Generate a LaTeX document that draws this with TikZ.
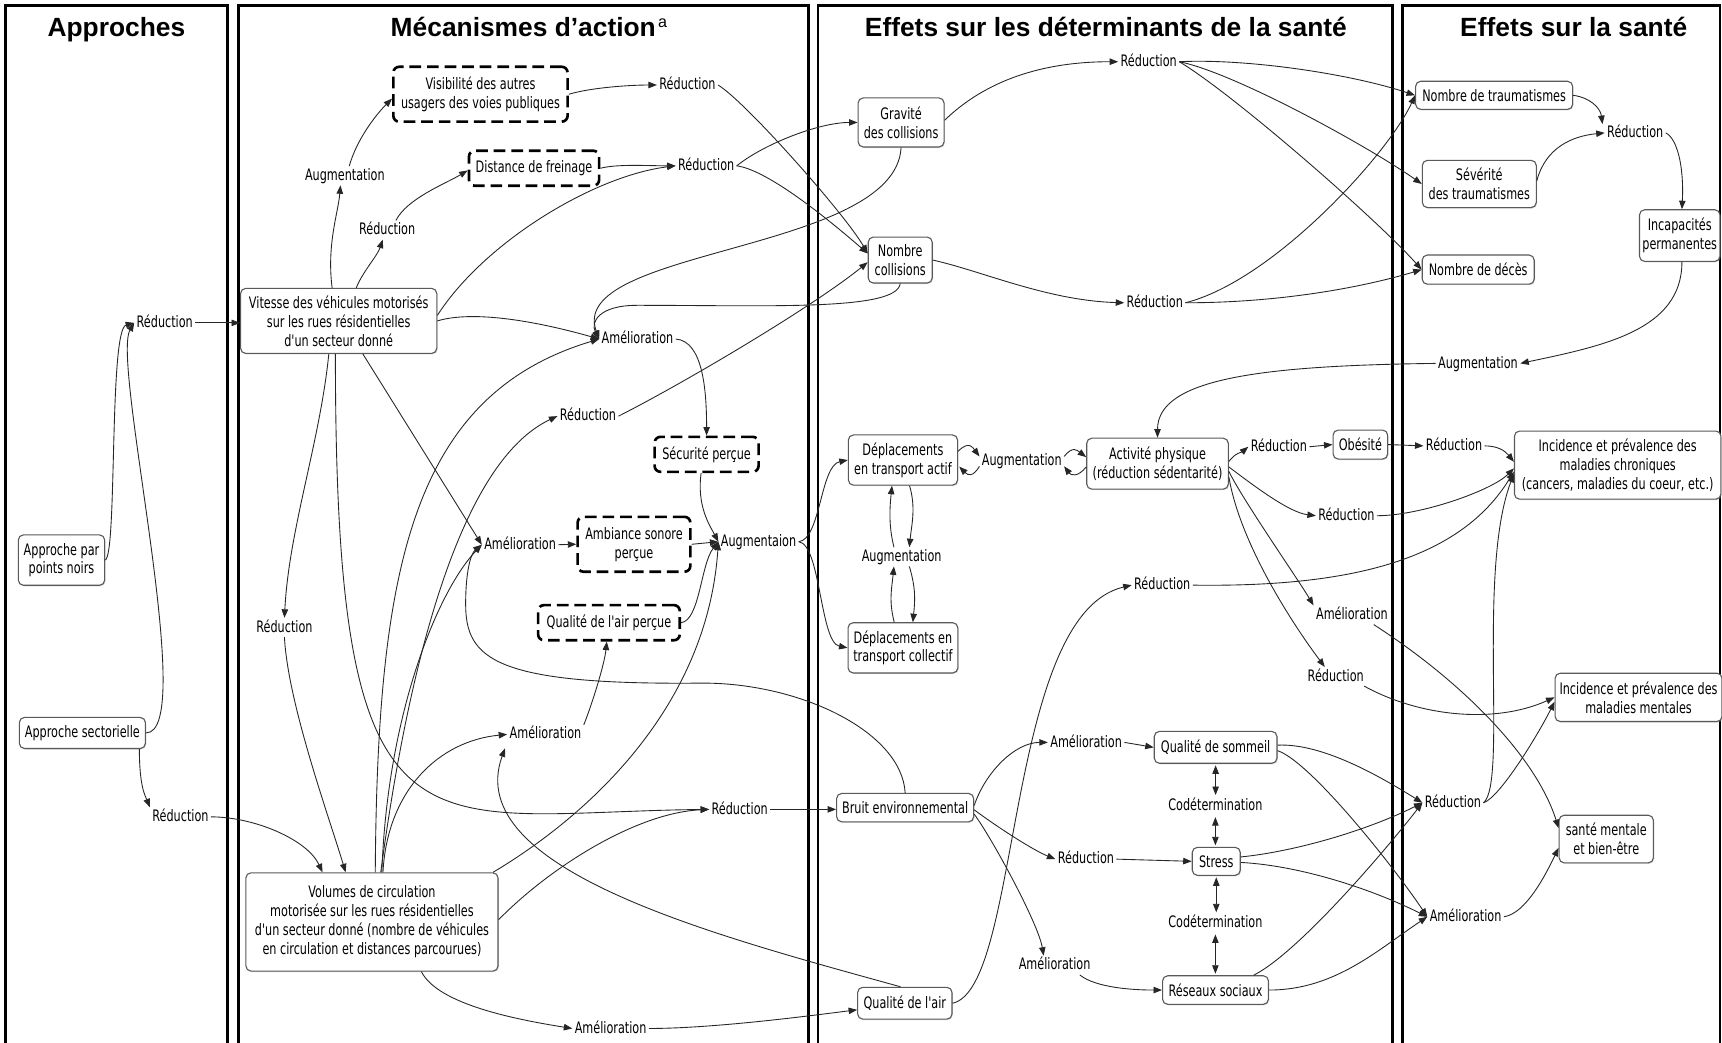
\documentclass[tikz,border=0pt]{standalone}
\usepackage{fontspec}
\setmainfont{DejaVu Sans}
\newfontfamily\lblfont{DejaVu Sans}[FakeStretch=0.71]
\newfontfamily\ttlfont{Liberation Sans}
\usetikzlibrary{arrows.meta,calc,shadows}
\tikzset{
  lab/.style={font=\lblfont\fontsize{10.8}{12.9}\selectfont, inner sep=1.5pt, text height=8pt, text depth=1.7pt, text=black},
  box/.style={draw=black!65, line width=0.75pt, rounded corners=3.5pt, fill=white, align=center, inner sep=2pt, font=\lblfont\fontsize{10.8}{12.9}\selectfont, text=black, drop shadow={shadow xshift=0.6pt, shadow yshift=-0.7pt, opacity=0.3}},
  dbox/.style={draw=black, line width=1.8pt, dash pattern=on 8pt off 4pt, rounded corners=4pt, fill=white, align=center, inner sep=2pt, font=\lblfont\fontsize{10.8}{12.9}\selectfont, text=black},
  arr/.style={draw=black!85, line width=0.6pt, -{Triangle[length=5.8pt,width=4.4pt]}},
  dbl/.style={draw=black!85, line width=0.6pt, {Triangle[length=5.8pt,width=4.4pt]}-{Triangle[length=5.8pt,width=4.4pt]}, shorten <=1pt, shorten >=1pt},
  panel/.style={draw=black, line width=1.8pt},
  ttl/.style={font=\ttlfont\bfseries\fontsize{18}{20}\selectfont, anchor=base, inner sep=0pt}
}
\begin{document}
\begin{tikzpicture}[x=0.75pt,y=-0.75pt]
\useasboundingbox (0,0) rectangle (1568,949);
\clip (0,0) rectangle (1568,949);
\fill[white] (0,0) rectangle (1568,949);

% panels
\draw[panel] (5,5) rectangle (207,965);
\draw[panel] (217,5) rectangle (736,965);
\draw[panel] (745,5) rectangle (1268,965);
\draw[panel] (1277,5) rectangle (1566,965);

% titles
\node[ttl] (t1) at (106,33.5) {Approches};
\node[ttl] (t2) at (476.5,33.5) {Mécanismes d’action\rlap{\hspace{1.5pt}\raisebox{6.5pt}{\mdseries\fontsize{11}{11}\selectfont a}}};
\node[ttl] (t3) at (1007,33.5) {Effets sur les déterminants de la santé};
\node[ttl] (t4) at (1433,33.5) {Effets sur la santé};

% boxes
\node[box, minimum width=59pt, minimum height=34.4pt] (pn) at (56,510) {Approche par\\points noirs};
\node[box, minimum width=86.1pt, minimum height=21.2pt] (as) at (75,667.4) {Approche sectorielle};
\node[box, minimum width=134pt, minimum height=44.4pt] (vit) at (308.4,292.2) {Vitesse des véhicules motorisés\\sur les rues résidentielles\\d'un secteur donné};
\node[box, minimum width=172.2pt, minimum height=67.1pt] (vol) at (338.7,839.5) {Volumes de circulation\\motorisée sur les rues résidentielles\\d'un secteur donné (nombre de véhicules\\en circulation et distances parcourues)};
\node[box, minimum width=58.7pt, minimum height=33.5pt] (grav) at (820.5,111.5) {Gravité\\des collisions};
\node[box, minimum width=43.7pt, minimum height=31.4pt] (nc) at (819.7,236.8) {Nombre\\collisions};
\node[box, minimum width=74.6pt, minimum height=34.3pt] (dact) at (822.2,418.9) {Déplacements\\en transport actif};
\node[box, minimum width=75pt, minimum height=34.3pt] (dcol) at (822.2,589.9) {Déplacements en\\transport collectif};
\node[box, minimum width=93.6pt, minimum height=19.4pt] (bruit) at (824.2,735.4) {Bruit environnemental};
\node[box, minimum width=64.4pt, minimum height=21.75pt] (qair) at (823.9,913.5) {Qualité de l'air};
\node[box, minimum width=96.7pt, minimum height=34.8pt] (act) at (1054,422.2) {Activité physique\\(réduction sédentarité)};
\node[box, minimum width=37.3pt, minimum height=19.8pt] (ob) at (1238.7,404.8) {Obésité};
\node[box, minimum width=83.8pt, minimum height=21.75pt] (som) at (1106.9,680.5) {Qualité de sommeil};
\node[box, minimum width=32.8pt, minimum height=19.1pt] (stress) at (1107.5,784.3) {Stress};
\node[box, minimum width=72.3pt, minimum height=19.5pt] (res) at (1106.8,901.5) {Réseaux sociaux};
\node[box, minimum width=107.25pt, minimum height=19.2pt] (nt) at (1360.5,86.8) {Nombre de traumatismes};
\node[box, minimum width=77.85pt, minimum height=32.25pt] (sev) at (1347,167.5) {Sévérité\\des traumatismes};
\node[box, minimum width=76.5pt, minimum height=19.9pt] (nd) at (1346,245.5) {Nombre de décès};
\node[box, minimum width=54.75pt, minimum height=35.25pt] (inc) at (1529.5,214.5) {Incapacités\\permanentes};
\node[box, minimum width=141pt, minimum height=46.5pt] (chr) at (1473,423.5) {Incidence et prévalence des\\maladies chroniques\\(cancers, maladies du coeur, etc.)};
\node[box, minimum width=114pt, minimum height=33pt] (mm) at (1492,635) {Incidence et prévalence des\\maladies mentales};
\node[box, minimum width=64.4pt, minimum height=32.55pt] (sm) at (1462.6,764) {santé mentale\\et bien-être};

% dashed boxes
\node[dbox, minimum width=119pt, minimum height=37.5pt] (vis) at (437.5,85.8) {Visibilité des autres\\usagers des voies publiques};
\node[dbox, minimum width=88.9pt, minimum height=23.9pt] (dist) at (486.3,153.2) {Distance de freinage};
\node[dbox, minimum width=71pt, minimum height=23.9pt] (sec) at (643.4,413.7) {Sécurité perçue};
\node[dbox, minimum width=77pt, minimum height=37.5pt] (amb) at (577.3,495.6) {Ambiance sonore\\perçue};
\node[dbox, minimum width=96.75pt, minimum height=24pt] (qap) at (554.5,567) {Qualité de l'air perçue};

% labels
\node[lab] (rA) at (150,294) {Réduction};
\node[lab] (rB) at (164.3,743.8) {Réduction};
\node[lab] (augA) at (314,160) {Augmentation};
\node[lab] (redC) at (352.5,209.5) {Réduction};
\node[lab] (redV) at (626,77.4) {Réduction};
\node[lab] (redD) at (643,151) {Réduction};
\node[lab] (amS) at (580.5,308.7) {Amélioration};
\node[lab] (redN) at (535.4,378.9) {Réduction};
\node[lab] (amA) at (473.6,496) {Amélioration};
\node[lab] (augm) at (690.7,493.3) {Augmentaion};
\node[lab] (redM) at (259,571.3) {Réduction};
\node[lab] (amQ) at (496.7,668.7) {Amélioration};
\node[lab] (redB) at (673.5,737) {Réduction};
\node[lab] (amAir) at (556,936.5) {Amélioration};
\node[lab] (redG) at (1046,56.2) {Réduction};
\node[lab] (redNC) at (1051.5,275.7) {Réduction};
\node[lab] (augDA) at (930.4,419.6) {Augmentation};
\node[lab] (augDC) at (821,507) {Augmentation};
\node[lab] (redO) at (1164.5,406.8) {Réduction};
\node[lab] (redAP) at (1226,469.6) {Réduction};
\node[lab] (redAir) at (1058.3,532.8) {Réduction};
\node[lab] (amAP) at (1231,560) {Amélioration};
\node[lab] (redAPb) at (1216.3,616) {Réduction};
\node[lab] (amSom) at (989,676) {Amélioration};
\node[lab] (codA) at (1106.7,734) {Codétermination};
\node[lab] (redSt) at (988.8,782.3) {Réduction};
\node[lab] (codB) at (1106.7,840.8) {Codétermination};
\node[lab] (amRes) at (960.3,879) {Amélioration};
\node[lab] (augInc) at (1345.8,330.9) {Augmentation};
\node[lab] (redT) at (1489,121) {Réduction};
\node[lab] (redOb) at (1324,406) {Réduction};
\node[lab] (redMb) at (1323,731) {Réduction};
\node[lab] (amM) at (1334.5,834.8) {Amélioration};

% ---------- connectors ----------
% approches
\draw[arr] (pn.east) .. controls +(11,-5) and +(-23,6) .. (rA.west);
\draw[arr] (as.east) .. controls +(48,0) and +(-21,36) .. (rA.west);
\draw[arr] (rA.east) -- (rA.east -| vit.west);
\draw[arr] ($(as.south east)+(-6,0)$) .. controls +(0,35) and +(-4,-10) .. (rB.north west);
\draw[arr] (rB.east) .. controls +(39,0) and +(-14,-30) .. ($(vol.north)+(-45,0)$);

% vitesse
\draw[arr] ($(vit.south)+(-9,0)$) .. controls +(-8,80) and +(4,-80) .. (redM.north);
\draw[arr] (redM.south) .. controls +(3,60) and +(-15,-50) .. ($(vol.north)+(-24,0)$);
\draw[arr] ($(vit.north)+(-6,0)$) .. controls +(-5,-40) and +(-2,25) .. ($(augA.south)+(-4,0)$);
\draw[arr] ($(augA.north)+(4,0)$) .. controls +(7,-25) and +(-14,14) .. ($(vis.west)+(0,4)$);
\draw[arr] ($(vit.north)+(16,0)$) .. controls +(6,-15) and +(-5,15) .. ($(redC.south)+(-4,0)$);
\draw[arr] ($(redC.north)+(8,0)$) .. controls +(10,-20) and +(-20,12) .. ($(dist.west)+(0,2)$);
\draw[arr] (vis.east) .. controls +(20,-6) and +(-25,0) .. (redV.west);
\draw[arr] (dist.east) .. controls +(15,-4) and +(-25,0) .. (redD.west);
\draw[arr] ($(vit.east)+(0,-5)$) .. controls +(43,-67) and +(-74,9) .. (redD.west);
\draw[arr] (vit.east) .. controls +(40,-12) and +(-35,-10) .. (amS.west);
\draw[arr] ($(vit.south)+(22,0)$) -- (amA.west);
\draw[arr] ($(vit.south)+(-3,0)$) .. controls +(0,478) and +(-266,3) .. (redB.west);

% into Amélioration (sécurité)
\draw[arr] (grav.south) .. controls +(-5,96) and +(-31,-83) .. (amS.west);
\draw[arr] (nc.south) .. controls +(-3,25) and +(120,0) .. (580,278) .. controls +(-35,0) and +(-8,-15) .. (amS.west);
\draw[arr] (amS.east) .. controls +(25,2) and +(0,-40) .. (sec.north);

% volumes
\draw[arr] ($(vol.north)+(3,0)$) .. controls +(2,-275) and +(-171.5,51.5) .. (amS.west);
\draw[arr] ($(vol.north)+(8,0)$) .. controls +(26,-195) and +(-87.5,41) .. (redN.west);
\draw[arr] ($(vol.north)+(9,0)$) .. controls +(5,-145) and +(-40,42) .. (amA.west);
\draw[arr] ($(vol.north east)+(-5,0)$) .. controls +(92,-55) and +(-10,147) .. (augm.west);
\draw[arr] ($(vol.north)+(10,0)$) .. controls +(4,-75) and +(-62,6) .. (amQ.west);
\draw[arr] ($(vol.east)+(0,-2)$) .. controls +(47,-48) and +(-66,3) .. (redB.west);
\draw[arr] ($(vol.south)+(45,0)$) .. controls +(15,30) and +(-50,-8) .. (amAir.west);

% perceptions
\draw[arr] ($(qair.north)+(-4,0)$) .. controls +(-170,-47) and +(-40,110) .. ($(amQ.south west)+(-2,4)$);
\draw[arr] (amQ.north east) .. controls +(8,-20) and +(-2,20) .. ($(qap.south)+(-2,0)$);
\draw[arr] (amA.east) -- (amb.west);
\draw[arr] (amb.east) -- (augm.west);
\draw[arr] ($(sec.south)+(-5,0)$) .. controls +(-4,30) and +(-8,-15) .. (augm.west);
\draw[arr] (qap.east) .. controls +(17,-2) and +(-16,20) .. (augm.west);
\draw[arr] (bruit.north) .. controls +(-3,-55) and +(90,0) .. (640,622) .. controls +(-190,2) and +(0,50) .. (424,550) .. controls +(0,-30) and +(-10,8) .. (amA.west);

% transport
\draw[arr] (augm.east) .. controls +(20,-2) and +(-25,5) .. (dact.west);
\draw[arr] (augm.east) .. controls +(20,2) and +(-25,-5) .. (dcol.west);
\draw[arr] ($(dact.east)+(0,-8)$) .. controls +(10,-10) and +(-6,-8) .. ($(augDA.west)+(0,-4)$);
\draw[arr] ($(augDA.west)+(0,5)$) .. controls +(-6,10) and +(8,8) .. ($(dact.east)+(1,6)$);
\draw[arr] ($(augDA.east)+(0,-4)$) .. controls +(8,-10) and +(-8,-6) .. ($(act.west)+(0,-6)$);
\draw[arr] ($(act.west)+(0,3)$) .. controls +(-8,10) and +(6,8) .. ($(augDA.east)+(0,5)$);
\draw[arr] ($(augDC.north)+(-7,0)$) .. controls +(-5,-20) and +(-2,20) .. ($(dact.south)+(-10,0)$);
\draw[arr] ($(dact.south)+(6,0)$) .. controls +(6,20) and +(2,-20) .. ($(augDC.north)+(7,0)$);
\draw[arr] ($(dcol.north)+(-8,0)$) .. controls +(-5,-20) and +(-2,20) .. ($(augDC.south)+(-7,0)$);
\draw[arr] ($(augDC.south)+(7,0)$) .. controls +(6,20) and +(2,-20) .. ($(dcol.north)+(9,0)$);

% collisions
\draw[arr] (redD.east) .. controls +(25,-20) and +(-35,0) .. (grav.west);
\draw[arr] (redD.east) .. controls +(30,4) and +(-30,-26) .. ($(nc.west)+(0,-6)$);
\draw[arr] (redV.east) .. controls +(25,15) and +(-20,-35) .. ($(nc.west)+(0,-6)$);
\draw[arr] (redN.east) .. controls +(57.5,-29) and +(-50.5,41) .. ($(nc.west)+(0,2)$);
\draw[arr] (redB.east) -- (redB.east -| bruit.west);
\draw[arr] (amAir.east) .. controls +(60,0) and +(-40,5) .. ($(qair.west)+(0,6)$);
\draw[arr] ($(grav.east)+(0,-2)$) .. controls +(32,-31) and +(-78,0) .. (redG.west);
\draw[arr] (nc.east) .. controls +(45,10) and +(-70,-2) .. (redNC.west);
\draw[arr] (redG.east) .. controls +(60,-3) and +(-60,-20) .. (nt.west);
\draw[arr] (redG.east) .. controls +(50,10) and +(-50,-35) .. (sev.west);
\draw[arr] (redG.east) .. controls +(50,30) and +(-40,-45) .. (nd.west);
\draw[arr] (redNC.east) .. controls +(80,-20) and +(-24,53) .. (nt.west);
\draw[arr] (redNC.east) .. controls +(90,0) and +(-50,15) .. (nd.west);

% santé : traumatismes
\draw[arr] (nt.east) .. controls +(15,2) and +(-2,-15) .. ($(redT.west)+(-2,-8)$);
\draw[arr] ($(sev.east)+(0,-3)$) .. controls +(8,-30) and +(-30,3) .. (redT.west);
\draw[arr] (redT.east) .. controls +(10,5) and +(2,-40) .. ($(inc.north)+(2,0)$);
\draw[arr] ($(inc.south)+(2,0)$) .. controls +(0,62) and +(76,-16) .. (augInc.east);
\draw[arr] (augInc.west) .. controls +(-158,2) and +(0,-54) .. (act.north);

% activité physique
\draw[arr] ($(act.east)+(0,-2)$) .. controls +(6,-8) and +(-6,5) .. (redO.west);
\draw[arr] (redO.east) -- (ob.west);
\draw[arr] (ob.east) -- (redOb.west);
\draw[arr] (redOb.east) .. controls +(12,0) and +(-8,-10) .. ($(chr.west)+(0,-3)$);
\draw[arr] ($(act.east)+(0,3)$) .. controls +(20,15) and +(-25,-3) .. (redAP.west);
\draw[arr] (redAP.east) .. controls +(40,0) and +(-20,20) .. ($(chr.west)+(0,3)$);
\draw[arr] (redAir.east) .. controls +(145,2) and +(-49,80) .. ($(chr.west)+(0,6)$);
\draw[arr] (qair.east) .. controls +(63,-13.5) and +(-116,27) .. (redAir.west);
\draw[arr] ($(act.east)+(0,7)$) .. controls +(12,25) and +(-15,-25) .. (amAP.north west);
\draw[arr] ($(act.east)+(0,12)$) .. controls +(10,60) and +(-30,-40) .. ($(redAPb.north)+(-10,0)$);
\draw[arr] ($(amAP.south east)+(-15,0)$) .. controls +(82,53) and +(-20,-64) .. ($(sm.west)+(0,-10)$);
\draw[arr] ($(redAPb.south east)+(-2,0)$) .. controls +(49,27) and +(-56,25) .. (mm.west);

% bruit
\draw[arr] ($(bruit.east)+(0,-2)$) .. controls +(10,-30) and +(-30,0) .. (amSom.west);
\draw[arr] (amSom.east) -- (som.west);
\draw[arr] ($(bruit.east)+(0,2)$) .. controls +(20,15) and +(-20,-8) .. (redSt.west);
\draw[arr] (redSt.east) -- (stress.west);
\draw[arr] ($(bruit.east)+(0,6)$) .. controls +(15,20) and +(-5,-30) .. ($(amRes.north)+(-10,0)$);
\draw[arr] ($(amRes.south east)+(-12,0)$) .. controls +(15,12) and +(-25,0) .. (res.west);
\draw[dbl] (som.south) -- (som.south |- codA.north);
\draw[dbl] (codA.south) -- (codA.south |- stress.north);
\draw[dbl] (stress.south) -- (stress.south |- codB.north);
\draw[dbl] (codB.south) -- (codB.south |- res.north);

% santé mentale
\draw[arr] ($(som.east)+(0,-2)$) .. controls +(40,-2) and +(-40,-25) .. (redMb.west);
\draw[arr] ($(som.east)+(0,3)$) .. controls +(30,10) and +(-30,-45) .. (amM.west);
\draw[arr] ($(stress.east)+(0,-4)$) .. controls +(50,-5) and +(-50,25) .. (redMb.west);
\draw[arr] ($(stress.east)+(0,1)$) .. controls +(55,3) and +(-50,-25) .. (amM.west);
\draw[arr] ($(res.north east)+(-14,0)$) .. controls +(40,-20) and +(-35,45) .. (redMb.west);
\draw[arr] (res.east) .. controls +(60,0) and +(-45,30) .. (amM.west);
\draw[arr] (redMb.east) .. controls +(15,-5) and +(-15,30) .. ($(mm.west)+(0,4)$);
\draw[arr] (redMb.east) .. controls +(22,-18) and +(-34,89) .. ($(chr.west)+(0,8)$);
\draw[arr] (amM.east) .. controls +(20,-3) and +(-12,25) .. ($(sm.west)+(0,8)$);
\end{tikzpicture}
\end{document}
